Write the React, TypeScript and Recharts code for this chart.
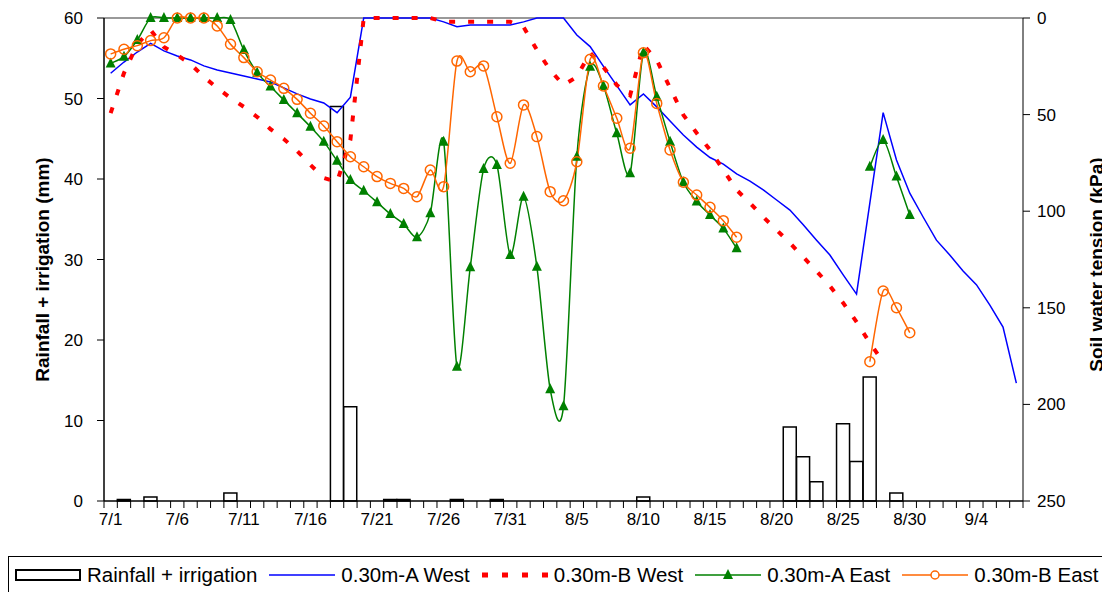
import { ComposedChart, Bar, Line, XAxis, YAxis, ReferenceLine } from 'recharts';

// daily categories 7/1 .. 9/7
const dates: string[] = Array.from({ length: 69 }, (_, i) => {
  const d = new Date(2000, 6, 1 + i);
  return `${d.getMonth() + 1}/${d.getDate()}`;
});

const leftTicks = [0, 10, 20, 30, 40, 50, 60];
const rightTicks = [0, 50, 100, 150, 200, 250];

// Rainfall + irrigation (mm)
const rain = [
  null, 0.2, null, 0.5, null, null, null, null, null, 1.0,
  null, null, null, null, null, null, null, 49, 11.7, null,
  null, 0.2, 0.2, null, null, null, 0.2, null, null, 0.2,
  null, null, null, null, null, null, null, null, null, null,
  0.5, null, null, null, null, null, null, null, null, null,
  null, 9.2, 5.5, 2.4, null, 9.6, 4.9, 15.4, null, 1.0,
  null, null, null, null, null, null, null, null, null,
];

// soil water tension (kPa)
const aWest = [
  28.6, 22.8, 17.6, 13.1, 17, 19.7, 21.7, 24.8, 26.9, 28.5,
  30, 31.6, 33.1, 36.2, 39.3, 41.9, 44, 49, 41, 0,
  0, 0, 0, 0, 0, 2, 4.5, 3.6, 3.6, 3.6,
  3.6, 2, 0, 0, 0, 8.8, 14.8, 25, 35, 45,
  39.3, 46, 53.3, 60.6, 66.8, 72.2, 75.6, 80.7, 84.4, 89,
  94.2, 99.4, 107, 115, 122.7, 133, 142.9, 95.8, 49, 73.5,
  90.7, 103, 115, 122.7, 131, 138, 148.5, 160, 189,
];

const bWest = [
  49.2, 28.5, 13.5, 6.2, 15, 19.2, 23.8, 30.5, 36.2, 41.4,
  46, 51.2, 57.5, 62.6, 68.8, 76, 82.8, 84.9, 63, 0,
  0, 0, 0, 0, 0, 1.9, 1.9, 1.9, 1.9, 1.9,
  2, 4.6, 16.5, 27, 34.7, 30.5, 18, 25.4, 34.7, 40,
  14, 21.7, 36.2, 50.2, 59.5, 68.3, 78.7, 89, 95.8, 103,
  109.7, 116.5, 123.7, 131, 138.7, 147.5, 157.3, 168.2, 178, null,
  null, null, null, null, null, null, null, null, null,
];

const aEast = [
  23.5, 20, 11.4, 0, 0, 0, 0, 0, 0, 1,
  16.6, 28.3, 35.5, 42.4, 49.3, 56.3, 64, 73.9, 83.8, 89.4,
  95.4, 101.5, 106.6, 113.5, 101, 64, 180.5, 129, 78.2, 76.1,
  122.7, 92.5, 128.7, 192.2, 201, 71.8, 25.2, 35.2, 59.7, 80.4,
  18, 40.7, 64, 85, 95, 102, 108.9, 119.2, null, null,
  null, null, null, null, null, null, null, 77, 63.1, 82.1,
  102, null, null, null, null, null, null, null, null,
];

const bEast = [
  18.6, 16.2, 14.3, 11.7, 10.2, 0, 0, 0, 4.1, 13.6,
  20.5, 27.8, 32.1, 36.4, 42.1, 49.3, 55.9, 64, 71.8, 77,
  82.1, 85.6, 88.2, 92.5, 78.7, 87.3, 22.3, 27.8, 24.8, 51.1,
  75.2, 45, 61.4, 89.9, 94.6, 74.4, 21.4, 35.2, 51.9, 67.4,
  18, 44.2, 68.3, 85, 91.6, 98, 104.9, 113.5, null, null,
  null, null, null, null, null, null, null, 177.9, 141.3, 150,
  162.9, null, null, null, null, null, null, null, null,
];

const data = dates.map((date, i) => ({
  date,
  rain: rain[i],
  aWest: aWest[i],
  bWest: bWest[i],
  aEast: aEast[i],
  bEast: bEast[i],
}));

const FONT = 'Arial, "Liberation Sans", sans-serif';
const PLOT_LEFT = 104;
const PLOT_RIGHT = 1023;
const BAND = (PLOT_RIGHT - PLOT_LEFT) / dates.length;

// smoothed line like the spreadsheet one (catmull-rom through the points)
const smooth = (context: any) => {
  let pts: number[][] = [];
  const k = 7;
  return {
    areaStart() {},
    areaEnd() {},
    lineStart() {
      pts = [];
    },
    lineEnd() {
      if (!pts.length) return;
      context.moveTo(pts[0][0], pts[0][1]);
      for (let i = 0; i < pts.length - 1; i++) {
        const p0 = pts[i - 1] || pts[i];
        const p1 = pts[i];
        const p2 = pts[i + 1];
        const p3 = pts[i + 2] || p2;
        context.bezierCurveTo(
          p1[0] + (p2[0] - p0[0]) / k,
          p1[1] + (p2[1] - p0[1]) / k,
          p2[0] - (p3[0] - p1[0]) / k,
          p2[1] - (p3[1] - p1[1]) / k,
          p2[0],
          p2[1],
        );
      }
    },
    point(x: number, y: number) {
      pts.push([+x, +y]);
    },
  };
};

const DayTick = ({ x, y, payload, index }: any) => {
  const left = x - BAND / 2;
  return (
    <g>
      <line x1={left} x2={left} y1={y} y2={y + 7} stroke="#000" />
      {index === dates.length - 1 && <line x1={x + BAND / 2} x2={x + BAND / 2} y1={y} y2={y + 7} stroke="#000" />}
      {index % 5 === 0 && (
        <text x={x} y={y + 12} dy="0.71em" textAnchor="middle" fontSize={17} fontFamily={FONT} fill="#000">
          {payload.value}
        </text>
      )}
    </g>
  );
};

const AxisTitle = ({ viewBox, text, cx, shift = 0 }: any) => {
  const cy = viewBox.y + viewBox.height / 2 + shift;
  return (
    <text
      x={cx}
      y={cy}
      transform={`rotate(-90 ${cx} ${cy})`}
      textAnchor="middle"
      dominantBaseline="central"
      fontSize={19}
      fontWeight="bold"
      fontFamily={FONT}
      fill="#000"
    >
      {text}
    </text>
  );
};

const Triangle = (props: any) => {
  const { cx, cy, index } = props;
  if (cx == null || cy == null) return <g key={`t-${index}`} />;
  return <path key={`t-${index}`} d={`M${cx},${cy - 6} L${cx + 5},${cy + 4} L${cx - 5},${cy + 4} Z`} fill="#008000" />;
};

const LegendLine = ({ color, dash, width = 1.5, marker }: any) => (
  <svg width={66} height={14} style={{ display: 'block' }}>
    <line x1={0} x2={66} y1={7} y2={7} stroke={color} strokeWidth={width} strokeDasharray={dash} />
    {marker === 'tri' && <path d="M33,1 L38,11 L28,11 Z" fill={color} />}
    {marker === 'circle' && <circle cx={33} cy={7} r={4} fill="#fff" stroke={color} strokeWidth={1.5} />}
  </svg>
);

const legendItems = [
  { name: 'Rainfall + irrigation', icon: (
    <svg width={66} height={14} style={{ display: 'block' }}>
      <rect x={1} y={2} width={64} height={10} fill="#fff" stroke="#000" strokeWidth={2} />
    </svg>
  ) },
  { name: '0.30m-A West', icon: <LegendLine color="#0000ff" /> },
  { name: '0.30m-B West', icon: <LegendLine color="#ff0000" dash="6 14" width={5} /> },
  { name: '0.30m-A East', icon: <LegendLine color="#008000" marker="tri" /> },
  { name: '0.30m-B East', icon: <LegendLine color="#ff6600" marker="circle" /> },
];

export default function App() {
  return (
    <div style={{ position: 'absolute', left: 0, top: 0, width: 1102, height: 592, overflow: 'hidden', background: '#fff' }}>
      <ComposedChart width={1102} height={557} data={data} margin={{ top: 18, right: 0, bottom: 0, left: 0 }} barCategoryGap={0} barGap={0}>
        <XAxis
          dataKey="date"
          interval={0}
          height={56}
          tickLine={false}
          tickSize={0}
          tickMargin={0}
          tick={<DayTick />}
          axisLine={{ stroke: '#000', strokeWidth: 1.5 }}
        />
        <YAxis
          yAxisId="left"
          width={104}
          domain={[0, 60]}
          ticks={leftTicks}
          tickSize={7}
          tickMargin={14}
          axisLine={{ stroke: '#000', strokeWidth: 1.5 }}
          tickLine={{ stroke: '#000' }}
          tick={{ fill: '#000', fontSize: 17, fontFamily: FONT }}
          label={<AxisTitle text="Rainfall + irrigation (mm)" cx={42} shift={10} />}
        />
        <YAxis
          yAxisId="right"
          orientation="right"
          width={79}
          reversed
          domain={[0, 250]}
          ticks={rightTicks}
          tickSize={7}
          tickMargin={7}
          axisLine={{ stroke: '#000' }}
          tickLine={{ stroke: '#000' }}
          tick={{ fill: '#000', fontSize: 17, fontFamily: FONT, textAnchor: 'start' }}
          label={<AxisTitle text="Soil water tension (kPa)" cx={1096} shift={5} />}
        />
        <ReferenceLine yAxisId="left" y={60} stroke="#999" strokeWidth={2} />
        <Bar yAxisId="left" dataKey="rain" fill="#fff" stroke="#000" strokeWidth={1.5} isAnimationActive={false} />
        <Line yAxisId="right" dataKey="aWest" type="linear" stroke="#0000ff" strokeWidth={1.5} dot={false} isAnimationActive={false} />
        <Line yAxisId="right" dataKey="bWest" type="linear" stroke="#ff0000" strokeWidth={4} strokeDasharray="6 13" dot={false} isAnimationActive={false} />
        <Line yAxisId="right" dataKey="aEast" type={smooth as any} stroke="#008000" strokeWidth={1.5} dot={Triangle} isAnimationActive={false} />
        <Line
          yAxisId="right"
          dataKey="bEast"
          type={smooth as any}
          stroke="#ff6600"
          strokeWidth={1.5}
          dot={{ r: 5, fill: 'none', stroke: '#ff6600', strokeWidth: 1.5 }}
          isAnimationActive={false}
        />
      </ComposedChart>
      <div
        style={{
          position: 'absolute',
          left: 8,
          top: 556,
          width: 1120,
          height: 40,
          border: '1px solid #000',
          display: 'flex',
          alignItems: 'center',
          paddingLeft: 6,
          boxSizing: 'border-box',
          fontFamily: FONT,
          fontSize: 20.5,
          color: '#000',
        }}
      >
        {legendItems.map((it) => (
          <div key={it.name} style={{ display: 'flex', alignItems: 'center', marginRight: 12, marginTop: -2 }}>
            {it.icon}
            <span style={{ marginLeft: 6, whiteSpace: 'nowrap' }}>{it.name}</span>
          </div>
        ))}
      </div>
    </div>
  );
}
